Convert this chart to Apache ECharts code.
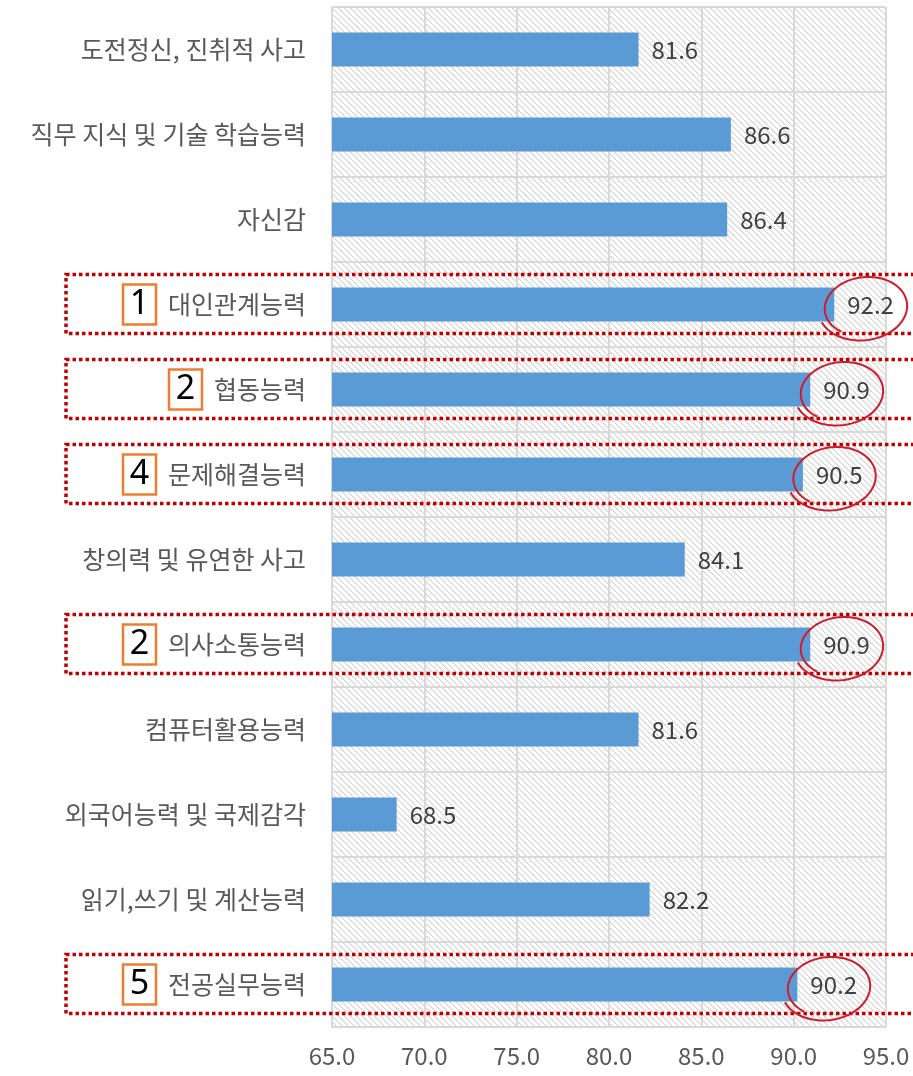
<!DOCTYPE html>
<html>
<head>
<meta charset="utf-8">
<script src="https://cdn.jsdelivr.net/npm/echarts@6/dist/echarts.min.js"></script>
<style>
  html, body { margin: 0; padding: 0; background: #fff; }
  #chart { width: 913px; height: 1076px; }
</style>
</head>
<body>
<div id="chart"></div>
<script>
// 항목 (위에서 아래 순서)
var categories = [
    "도전정신, 진취적 사고",
    "직무 지식 및 기술 학습능력",
    "자신감",
    "대인관계능력",
    "협동능력",
    "문제해결능력",
    "창의력 및 유연한 사고",
    "의사소통능력",
    "컴퓨터활용능력",
    "외국어능력 및 국제감각",
    "읽기,쓰기 및 계산능력",
    "전공실무능력"
];
var values = [81.6, 86.6, 86.4, 92.2, 90.9, 90.5, 84.1, 90.9, 81.6, 68.5, 82.2, 90.2];
// 순위 표시 (없으면 null)
var ranks = [null, null, null, 1, 2, 4, null, 2, null, null, null, 5];
var xTicks = [65, 70, 75, 80, 85, 90, 95];

var chart = echarts.init(document.getElementById("chart"));

// 빗금 배경 패턴
var tile = document.createElement("canvas");
tile.width = 6; tile.height = 6;
var ctx = tile.getContext("2d");
ctx.fillStyle = "#ffffff";
ctx.fillRect(0, 0, 6, 6);
ctx.fillStyle = "#d3d3d3";
for (var p = 0; p < 6; p++) ctx.fillRect(p, p, 1, 1);
ctx.fillStyle = "#ececec";
for (var p = 0; p < 6; p++) ctx.fillRect((p + 1) % 6, p, 1, 1);

// 강조 표시할 항목
var marks = [];
for (var i = 0; i < values.length; i++) {
    if (ranks[i] != null) marks.push([values[i], i]);
}

function drawMark(params, api) {
    var pt = api.coord([api.value(0), api.value(1)]);
    var cx = pt[0] + 30, cy = pt[1] + 3, rx = 45, ry = 33;
    var pts = [], n = 80, a0 = 2.3, span = Math.PI * 2 + 0.55, tilt = -0.12;
    for (var k = 0; k <= n; k++) {
        var t = a0 + span * k / n;
        var g = 0.86 + 0.16 * k / n;
        var ex = rx * g * Math.cos(t), ey = ry * g * Math.sin(t);
        pts.push([cx + ex * Math.cos(tilt) - ey * Math.sin(tilt),
                  cy + ex * Math.sin(tilt) + ey * Math.cos(tilt)]);
    }
    return {
        type: "group",
        children: [
            {
                type: "rect",
                shape: { x: 66, y: pt[1] - 30, width: 900, height: 59 },
                style: { fill: "none", stroke: "#c00000", lineWidth: 3.5, lineDash: [3.5, 3] }
            },
            {
                type: "polyline",
                shape: { points: pts },
                style: { fill: "none", stroke: "#d01c2a", lineWidth: 2 }
            }
        ]
    };
}

var gray = "#d9d9d9";
var option = {
    animation: false,
    textStyle: { fontFamily: "'Noto Sans CJK KR', 'Noto Sans', sans-serif" },
    grid: {
        left: 332, right: 27, top: 7, bottom: 49,
        show: true, borderWidth: 0,
        backgroundColor: { image: tile, repeat: "repeat" }
    },
    xAxis: {
        type: "value",
        min: 65, max: 95, interval: 5,
        axisLine: { show: false },
        axisTick: { show: false },
        splitLine: { lineStyle: { color: gray, width: 2 } },
        axisLabel: {
            fontSize: 24, color: "#595959", margin: 17,
            formatter: function (v) { return xTicks.indexOf(v) >= 0 ? v.toFixed(1) : ""; }
        }
    },
    yAxis: {
        type: "category",
        inverse: true,
        data: categories,
        axisLine: { lineStyle: { color: gray, width: 2 } },
        axisTick: { length: 9, lineStyle: { color: gray, width: 2 } },
        splitLine: { show: true, lineStyle: { color: gray, width: 2 } },
        axisLabel: {
            margin: 26,
            formatter: function (name, idx) {
                if (ranks[idx] != null) return "{b|" + ranks[idx] + "}{s|}{n|" + name + "}";
                return "{n|" + name + "}";
            },
            rich: {
                n: { fontSize: 25, color: "#595959" },
                s: { width: 12 },
                b: {
                    fontSize: 34, color: "#000", fontFamily: "'Noto Sans', sans-serif",
                    borderColor: "#ed7d31", borderWidth: 2.5,
                    width: 21, height: 38, align: "center", lineHeight: 38, padding: [1, 6, 1, 6]
                }
            }
        }
    },
    series: [
        {
            type: "bar",
            data: values,
            barWidth: "40%",
            itemStyle: { color: "#5b9bd5" },
            label: {
                show: true, position: "right", distance: 13,
                fontSize: 24, color: "#404040",
                formatter: function (p) { return p.value.toFixed(1); }
            }
        },
        {
            type: "custom",
            data: marks,
            encode: { x: 0, y: 1 },
            renderItem: drawMark,
            clip: false,
            z: 5,
            silent: true
        }
    ]
};
chart.setOption(option);
</script>
</body>
</html>
